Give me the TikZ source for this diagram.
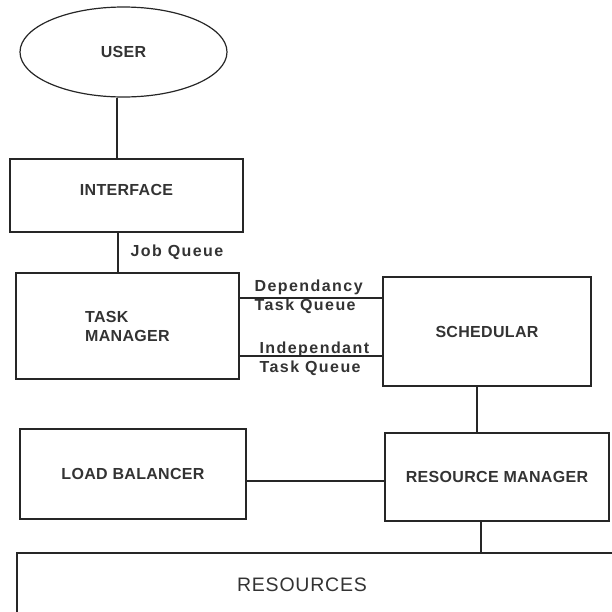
\documentclass[tikz,border=0pt]{standalone}
\usepackage{fontspec}
\setmainfont{Liberation Sans}
\newfontfamily\capfam{Liberation Sans}[LetterSpace=2]
\newfontfamily\resfam{Liberation Sans}[LetterSpace=4]
\newfontfamily\qfam{Liberation Sans}[LetterSpace=9]
\newcommand{\boxfont}{\capfam\bfseries\fontsize{16}{19}\selectfont}
\newcommand{\resfont}{\resfam\fontsize{19.5}{23}\selectfont}
\newcommand{\qfont}{\qfam\bfseries\fontsize{16}{18.5}\selectfont}
\usetikzlibrary{shapes.geometric, calc}

\begin{document}
\begin{tikzpicture}[x=1pt, y=-1pt, line width=1.2pt, draw=black!85,
  box/.style={draw, rectangle, inner sep=0pt, font=\boxfont, text=black!80},
  qlabel/.style={font=\qfont, text=black!80, align=left, inner sep=0pt, anchor=west}]
\useasboundingbox (0,0) rectangle (612,611);
\clip (0,0) rectangle (612,611);

% User
\node[ellipse, draw, minimum width=207pt, minimum height=90pt, font=\boxfont, text=black!80] (user) at (123.5,52) {USER};

% Boxes
\node[box, minimum width=233pt, minimum height=73pt, text depth=12pt] (iface) at (126.5,195.5) {INTERFACE};
\node[box, minimum width=223pt, minimum height=106pt, align=left] (tm) at (127.5,326) {TASK\\MANAGER};
\node[box, minimum width=208pt, minimum height=109pt] (sched) at (487,331.5) {SCHEDULAR};
\node[box, minimum width=226pt, minimum height=90pt] (lb) at (133,474) {LOAD BALANCER};
\node[box, minimum width=224pt, minimum height=88pt] (rm) at (497,477) {RESOURCE MANAGER};
\node[box, minimum width=623pt, minimum height=87pt,
  label={[font=\resfont, text=black!80, xshift=-26.5pt, yshift=11.5pt]center:RESOURCES}] (res) at (328.5,596.5) {};

% Queue labels
\node[qlabel] (jq) at (130,252) {Job Queue};
\node[qlabel] (dq) at (254,297) {Dependancy\\Task Queue};
\node[qlabel] (iq) at (259,359) {Independant\\Task Queue};

% Links
\coordinate (ux) at (117,0);
\draw (ux |- user.south) -- (ux |- iface.north);
\coordinate (jx) at (118,0);
\draw (jx |- iface.south) -- (jx |- tm.north);
\coordinate (dy) at (0,298);
\draw (tm.east |- dy) -- (sched.west |- dy);
\coordinate (iy) at (0,356);
\draw (tm.east |- iy) -- (sched.west |- iy);
\coordinate (sx) at (477,0);
\draw (sx |- sched.south) -- (sx |- rm.north);
\coordinate (ly) at (0,481);
\draw (lb.east |- ly) -- (rm.west |- ly);
\coordinate (rx) at (481,0);
\draw (rx |- rm.south) -- (rx |- res.north);
\end{tikzpicture}
\end{document}
